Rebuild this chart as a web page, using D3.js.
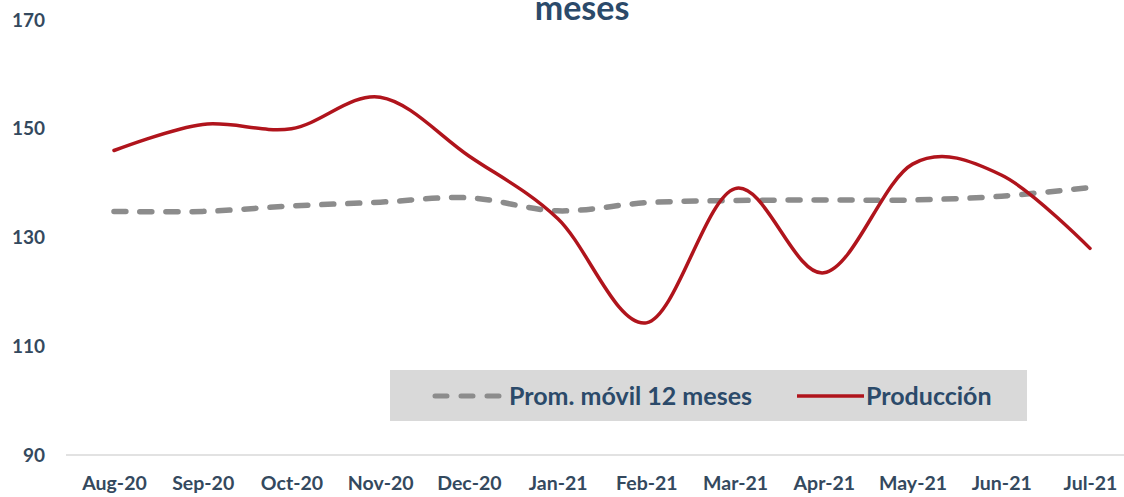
<!DOCTYPE html>
<html>
<head>
<meta charset="utf-8">
<script src="https://cdn.jsdelivr.net/npm/d3@7"></script>
<style>
  html, body { margin: 0; padding: 0; background: #ffffff; }
  svg { display: block; }
  text { font-family: Lato, "Open Sans", sans-serif; font-weight: bold; }
</style>
</head>
<body>
<svg id="chart" width="1124" height="497"></svg>
<script>
const months = ["Aug-20","Sep-20","Oct-20","Nov-20","Dec-20","Jan-21","Feb-21","Mar-21","Apr-21","May-21","Jun-21","Jul-21"];
const produccion = [146, 150.8, 150, 155.8, 145, 133.5, 114.3, 139, 123.5, 143.5, 141.5, 128];
const promMovil = [134.8, 134.8, 135.8, 136.5, 137.3, 134.9, 136.4, 136.8, 136.9, 136.9, 137.6, 139.2];
const yTicks = [90, 110, 130, 150, 170];
const seriesNames = ["Prom. móvil 12 meses", "Producción"];

const textColor = "#34495e";
const svg = d3.select("#chart");

const x = d3.scalePoint().domain(months).range([114, 1090]);
const y = d3.scaleLinear().domain([90, 170]).range([455, 20]);

// title (second line visible)
svg.append("text")
  .attr("x", 582).attr("y", 20)
  .attr("text-anchor", "middle")
  .attr("fill", "#2b4a6a")
  .style("font-size", "34px")
  .text("meses");

// baseline
svg.append("line")
  .attr("x1", 66).attr("x2", 1124)
  .attr("y1", y(90)).attr("y2", y(90))
  .attr("stroke", "#d9d9d9").attr("stroke-width", 1.5);

// y axis
const yAxis = svg.append("g")
  .attr("transform", "translate(45,0)")
  .call(d3.axisLeft(y).tickValues(yTicks).tickSize(0).tickPadding(0));
yAxis.select(".domain").remove();
yAxis.selectAll("text")
  .attr("fill", textColor)
  .style("font-size", "19px");

// x axis
const xAxis = svg.append("g")
  .attr("transform", "translate(0,476)")
  .call(d3.axisBottom(x).tickSize(0).tickPadding(0));
xAxis.select(".domain").remove();
xAxis.selectAll("text")
  .attr("fill", textColor)
  .style("font-size", "19.5px");

const line = d3.line()
  .x((d, i) => x(months[i]))
  .y(d => y(d))
  .curve(d3.curveCardinal.tension(0));

svg.append("path")
  .datum(promMovil)
  .attr("d", line)
  .attr("fill", "none")
  .attr("stroke", "#8c8c8c")
  .attr("stroke-width", 5.5)
  .attr("stroke-linecap", "round")
  .attr("stroke-dasharray", "12,14");

svg.append("path")
  .datum(produccion)
  .attr("d", line)
  .attr("fill", "none")
  .attr("stroke", "#b0141c")
  .attr("stroke-width", 3.5)
  .attr("stroke-linecap", "round");

// legend
const lg = svg.append("g");
lg.append("rect")
  .attr("x", 390).attr("y", 370)
  .attr("width", 637).attr("height", 51)
  .attr("fill", "#d9d9d9");
lg.append("line")
  .attr("x1", 435).attr("x2", 500)
  .attr("y1", 396).attr("y2", 396)
  .attr("stroke", "#8c8c8c").attr("stroke-width", 5)
  .attr("stroke-linecap", "round")
  .attr("stroke-dasharray", "12,14");
lg.append("text")
  .attr("x", 509).attr("y", 396)
  .attr("dy", "0.35em")
  .attr("fill", "#2b4a6a")
  .style("font-size", "25px")
  .text(seriesNames[0]);
lg.append("line")
  .attr("x1", 797).attr("x2", 864)
  .attr("y1", 396).attr("y2", 396)
  .attr("stroke", "#b0141c").attr("stroke-width", 3.5);
lg.append("text")
  .attr("x", 866).attr("y", 396)
  .attr("dy", "0.35em")
  .attr("fill", "#2b4a6a")
  .style("font-size", "25px")
  .text(seriesNames[1]);
</script>
</body>
</html>
